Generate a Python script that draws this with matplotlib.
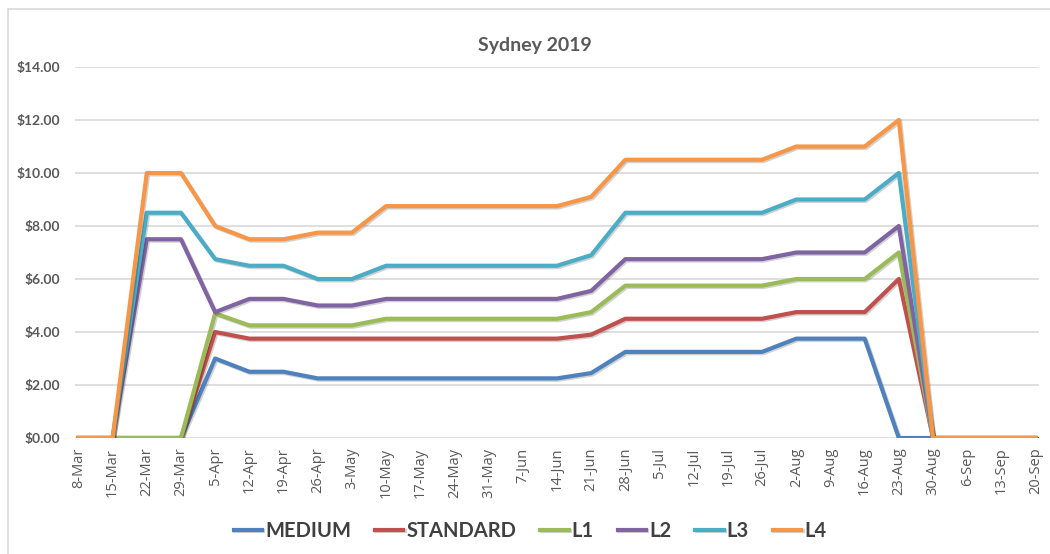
import matplotlib
matplotlib.use("Agg")
import matplotlib.pyplot as plt
import matplotlib.patheffects as pe
from matplotlib.ticker import FuncFormatter

dates = ["8-Mar", "15-Mar", "22-Mar", "29-Mar", "5-Apr", "12-Apr", "19-Apr", "26-Apr",
         "3-May", "10-May", "17-May", "24-May", "31-May", "7-Jun", "14-Jun", "21-Jun",
         "28-Jun", "5-Jul", "12-Jul", "19-Jul", "26-Jul", "2-Aug", "9-Aug", "16-Aug",
         "23-Aug", "30-Aug", "6-Sep", "13-Sep", "20-Sep"]

medium = [0, 0, 0, 0, 3.0, 2.5, 2.5, 2.25, 2.25, 2.25, 2.25, 2.25, 2.25, 2.25, 2.25, 2.45,
          3.25, 3.25, 3.25, 3.25, 3.25, 3.75, 3.75, 3.75, 0, 0, 0, 0, 0]
standard = [0, 0, 0, 0, 4.0, 3.75, 3.75, 3.75, 3.75, 3.75, 3.75, 3.75, 3.75, 3.75, 3.75, 3.9,
            4.5, 4.5, 4.5, 4.5, 4.5, 4.75, 4.75, 4.75, 6.0, 0, 0, 0, 0]
l1 = [0, 0, 0, 0, 4.7, 4.25, 4.25, 4.25, 4.25, 4.5, 4.5, 4.5, 4.5, 4.5, 4.5, 4.75,
      5.75, 5.75, 5.75, 5.75, 5.75, 6.0, 6.0, 6.0, 7.0, 0, 0, 0, 0]
l2 = [0, 0, 7.5, 7.5, 4.75, 5.25, 5.25, 5.0, 5.0, 5.25, 5.25, 5.25, 5.25, 5.25, 5.25, 5.55,
      6.75, 6.75, 6.75, 6.75, 6.75, 7.0, 7.0, 7.0, 8.0, 0, 0, 0, 0]
l3 = [0, 0, 8.5, 8.5, 6.75, 6.5, 6.5, 6.0, 6.0, 6.5, 6.5, 6.5, 6.5, 6.5, 6.5, 6.9,
      8.5, 8.5, 8.5, 8.5, 8.5, 9.0, 9.0, 9.0, 10.0, 0, 0, 0, 0]
l4 = [0, 0, 10.0, 10.0, 8.0, 7.5, 7.5, 7.75, 7.75, 8.75, 8.75, 8.75, 8.75, 8.75, 8.75, 9.1,
      10.5, 10.5, 10.5, 10.5, 10.5, 11.0, 11.0, 11.0, 12.0, 0, 0, 0, 0]

series = [("MEDIUM", medium, "#4F81BD"), ("STANDARD", standard, "#C0504D"),
          ("L1", l1, "#9BBB59"), ("L2", l2, "#8064A2"),
          ("L3", l3, "#4BACC6"), ("L4", l4, "#F79646")]

fig = plt.figure(figsize=(10.5, 5.54), dpi=100)
ax = fig.add_axes([75 / 1050, 1 - 438 / 554, (1039 - 75) / 1050, (438 - 67) / 554])

x = list(range(len(dates)))
shadow = [pe.SimpleLineShadow(offset=(1.0, -1.0), alpha=0.18), pe.Normal()]
for name, vals, col in series:
    ax.plot(x, vals, color=col, lw=3.0, label=name, solid_joinstyle="round",
            path_effects=shadow)

ax.set_xlim(-0.1, len(dates) - 0.9)
ax.set_ylim(0, 14)
ax.set_yticks(range(0, 15, 2))
ax.yaxis.set_major_formatter(FuncFormatter(lambda v, p: f"${v:.2f}"))
ax.set_xticks(x)
ax.set_xticklabels(dates, rotation=90, fontsize=10.5, color="#595959", family="Open Sans")
for t in ax.get_yticklabels():
    t.set_fontsize(10)
    t.set_fontweight("bold")
    t.set_color("#595959")
    t.set_family("Lato")
ax.tick_params(axis="x", length=0, pad=7)
ax.tick_params(axis="y", length=0, pad=11)
ax.grid(axis="y", color="#D9D9D9", lw=1.2)
ax.set_axisbelow(True)
for s in ax.spines.values():
    s.set_visible(False)

fig.text(535 / 1050, 1 - 46 / 554, "Sydney 2019", ha="center", va="center",
         fontsize=14, fontweight="bold", color="#595959", family="Lato")

leg = fig.legend(loc="center", bbox_to_anchor=(530 / 1050, 1 - 531 / 554), ncol=6,
                 frameon=False, handlelength=1.4, handletextpad=0.15, columnspacing=1.2,
                 prop={"family": "Lato", "weight": "bold", "size": 14.5})
for t in leg.get_texts():
    t.set_color("#404040")

# chart border (top and left visible)
fig.add_artist(plt.Line2D([8 / 1050, 8 / 1050], [0, 1 - 9 / 554], color="#D9D9D9", lw=1.2))
fig.add_artist(plt.Line2D([8 / 1050, 1], [1 - 9 / 554, 1 - 9 / 554], color="#D9D9D9", lw=1.2))

fig.savefig("out.png", dpi=100)
